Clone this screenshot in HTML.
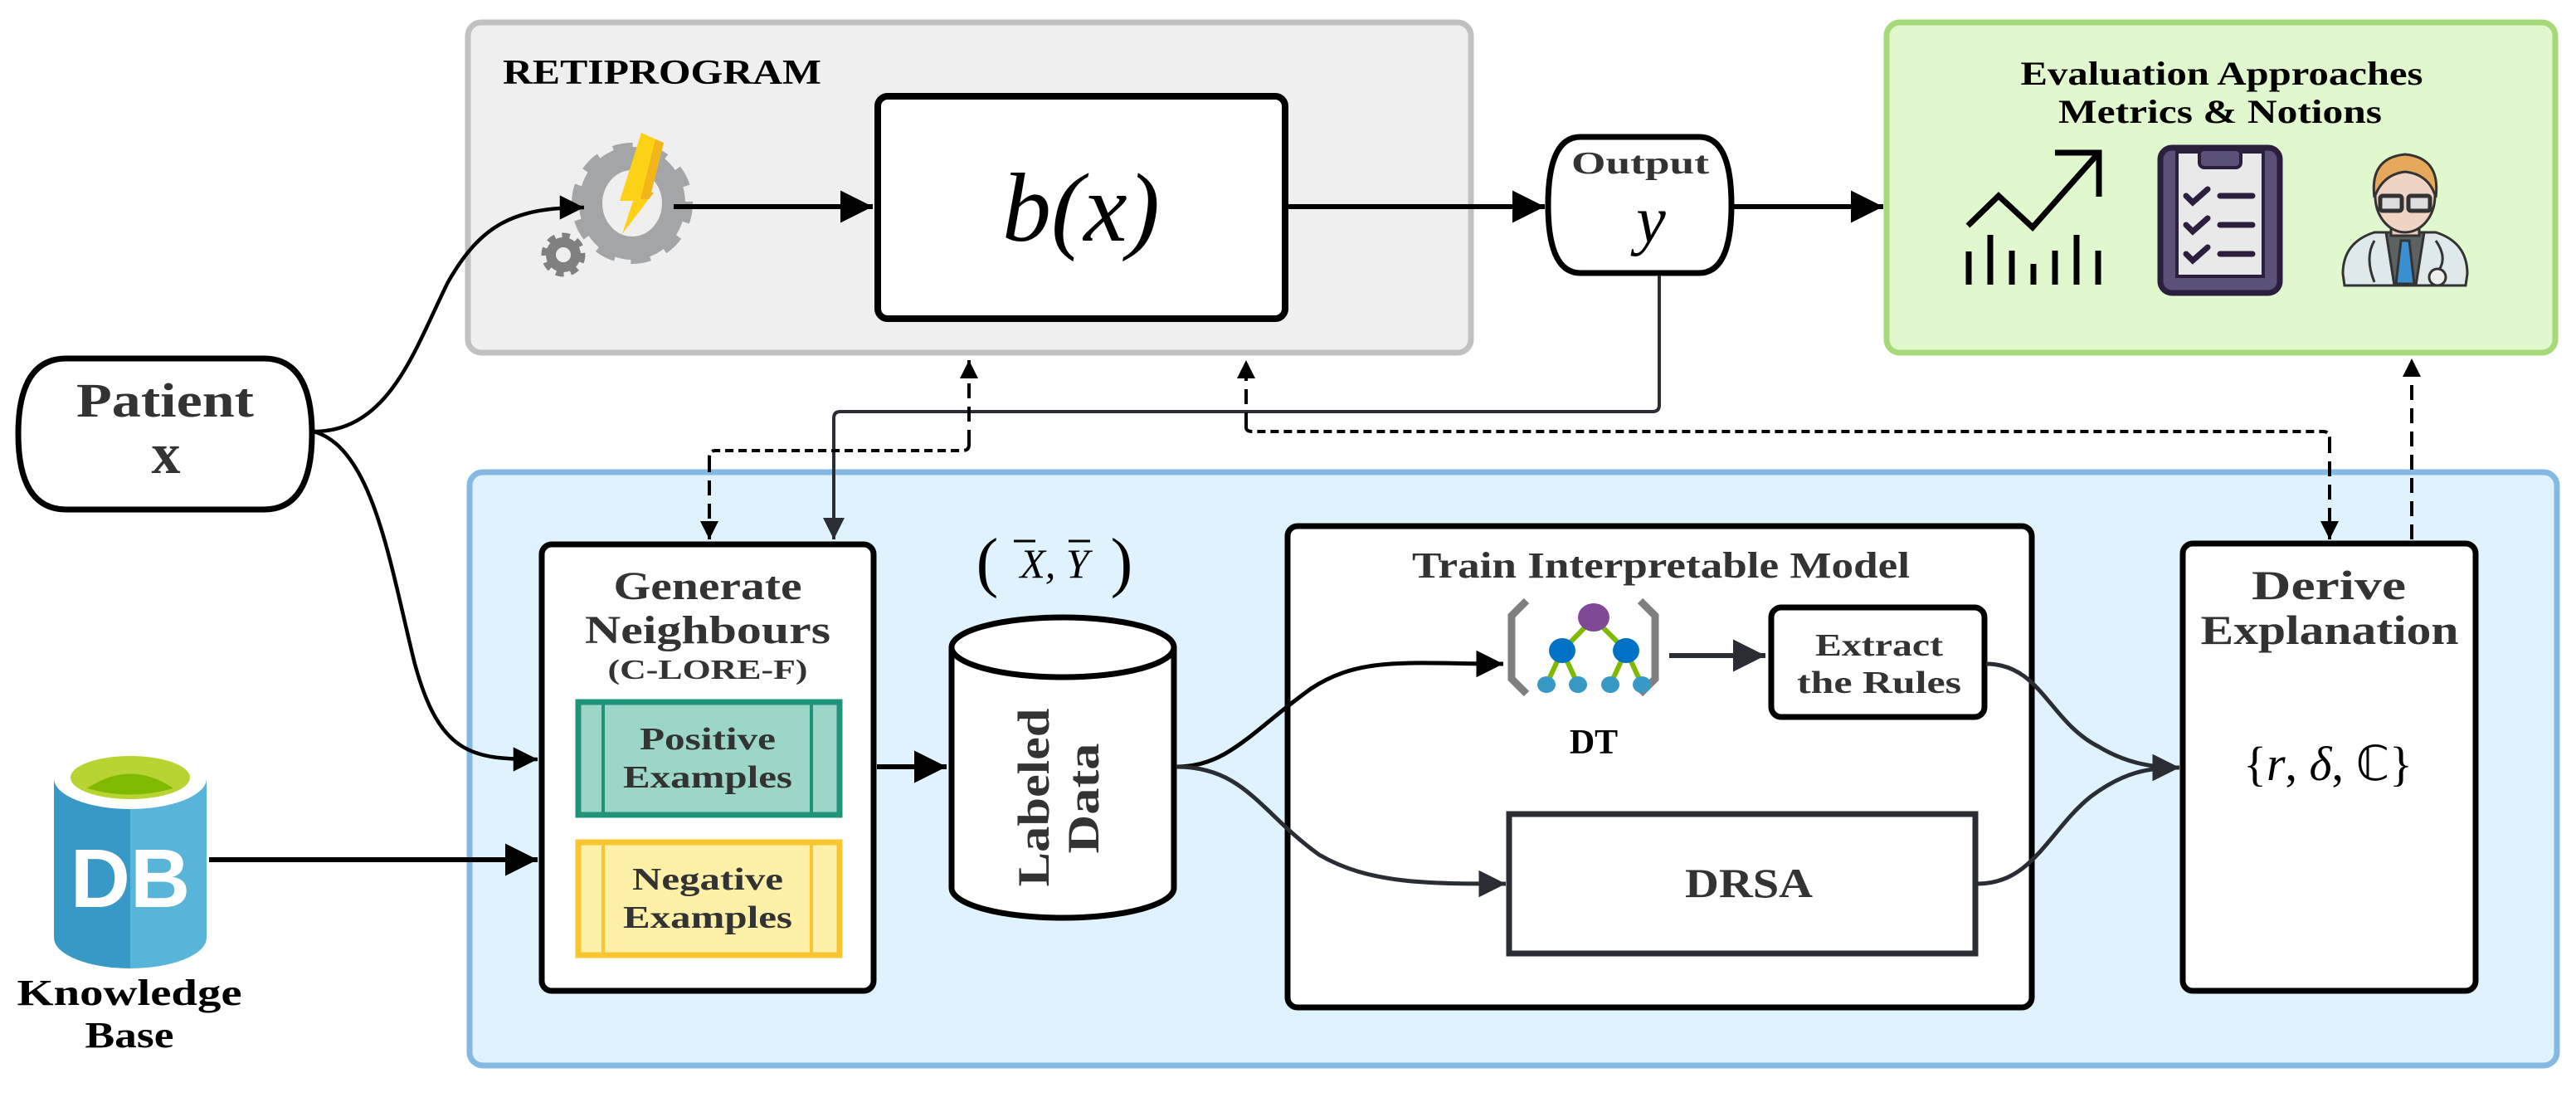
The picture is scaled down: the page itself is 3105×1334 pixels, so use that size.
<!DOCTYPE html>
<html><head><meta charset="utf-8"><style>
html,body{margin:0;padding:0;background:#fff;}
svg{display:block;}
text{font-family:"Liberation Serif",serif;}
</style></head><body>
<svg width="3105" height="1334" viewBox="0 0 3105 1334" xmlns="http://www.w3.org/2000/svg">
<defs>
<marker id="a" viewBox="0 0 10 10" refX="10" refY="5" markerWidth="7.5" markerHeight="6.5" orient="auto"><path d="M0,0 L10,5 L0,10 z" fill="#000"/></marker>
<marker id="ad" viewBox="0 0 10 10" refX="10" refY="5" markerWidth="7.5" markerHeight="6.5" orient="auto"><path d="M0,0 L10,5 L0,10 z" fill="#2a2d33"/></marker>
<marker id="as" viewBox="0 0 10 10" refX="10" refY="5" markerWidth="11" markerHeight="5.5" orient="auto"><path d="M0,0 L10,5 L0,10 z" fill="#000"/></marker>
</defs>

<rect x="564" y="27" width="1209" height="398" rx="16" fill="#efefef" stroke="#c1c1c1" stroke-width="7"/>
<text x="606" y="101" font-size="42" font-weight="bold" fill="#000" textLength="384" lengthAdjust="spacingAndGlyphs">RETIPROGRAM</text>

<rect x="2274" y="27" width="806" height="398" rx="16" fill="#e1f8cf" stroke="#a6d97a" stroke-width="7"/>
<text x="2678" y="102" font-size="40" font-weight="bold" fill="#000" text-anchor="middle" textLength="485" lengthAdjust="spacingAndGlyphs">Evaluation Approaches</text>
<text x="2676" y="148" font-size="40" font-weight="bold" fill="#000" text-anchor="middle" textLength="390" lengthAdjust="spacingAndGlyphs">Metrics &amp; Notions</text>

<g stroke="#000" stroke-width="7" fill="none">
<polyline points="2372,272 2409,236 2450,274 2528,186"/>
<polyline points="2477,184 2530,184 2530,237"/>
<line x1="2373" y1="303" x2="2373" y2="343"/>
<line x1="2399" y1="283" x2="2399" y2="343"/>
<line x1="2425" y1="302" x2="2425" y2="343"/>
<line x1="2451" y1="318" x2="2451" y2="343"/>
<line x1="2477" y1="302" x2="2477" y2="343"/>
<line x1="2503" y1="283" x2="2503" y2="343"/>
<line x1="2529" y1="302" x2="2529" y2="343"/>
</g>
<rect x="2604" y="178" width="144" height="175" rx="14" fill="#5a5078" stroke="#2b1f3d" stroke-width="7"/>
<rect x="2624" y="183" width="104" height="150" fill="#e9e9e9" stroke="#2b1f3d" stroke-width="4"/>
<rect x="2651" y="180" width="50" height="22" rx="6" fill="#5a5078" stroke="#2b1f3d" stroke-width="4"/>
<g stroke="#2b1f3d" stroke-width="7" fill="none" stroke-linecap="round">
<polyline points="2635,236 2643,244 2661,228"/><line x1="2676" y1="236" x2="2715" y2="236"/>
<polyline points="2635,271 2643,279 2661,263"/><line x1="2676" y1="271" x2="2715" y2="271"/>
<polyline points="2635,306 2643,314 2661,298"/><line x1="2676" y1="306" x2="2715" y2="306"/>
</g>
<g stroke="#333" stroke-width="3">
<path d="M2824,330 Q2824,292 2862,280 L2936,280 Q2974,292 2974,330 L2972,344 L2826,344 z" fill="#dfe9ec"/>
<path d="M2876,280 L2922,280 L2912,344 L2886,344 z" fill="#5c6262"/>
<path d="M2894,290 L2904,290 L2910,342 L2888,342 z" fill="#3a8fd1"/>
<rect x="2882" y="254" width="34" height="30" fill="#e9c9b8"/>
<ellipse cx="2899" cy="236" rx="36" ry="44" fill="#efd3c3"/>
<path d="M2862,238 Q2856,190 2899,186 Q2942,190 2936,238 Q2928,210 2899,207 Q2872,210 2862,238z" fill="#e6a85a"/>
<rect x="2869" y="236" width="26" height="18" rx="3" fill="#ddd" stroke-width="5"/>
<rect x="2903" y="236" width="26" height="18" rx="3" fill="#ddd" stroke-width="5"/>
<path d="M2862,290 Q2850,310 2862,340 M2936,290 Q2950,310 2940,325" fill="none"/>
<circle cx="2938" cy="334" r="10" fill="#eee"/>
</g>

<rect x="566" y="569" width="2516" height="715" rx="16" fill="#e0f2fd" stroke="#83b9e2" stroke-width="7"/>

<rect x="1058" y="116" width="491" height="268" rx="12" fill="#fff" stroke="#000" stroke-width="8"/>
<text x="1303" y="290" font-size="118" font-style="italic" fill="#000" text-anchor="middle">b(x)</text>

<g>
<circle cx="762" cy="245" r="64" fill="none" stroke="#a4a5a7" stroke-width="18" stroke-dasharray="22 18"/>
<ellipse cx="762" cy="245" rx="50" ry="54" fill="none" stroke="#a4a5a7" stroke-width="28"/>
<circle cx="679" cy="307" r="22" fill="none" stroke="#808080" stroke-width="9" stroke-dasharray="9 8"/>
<circle cx="679" cy="307" r="15" fill="none" stroke="#808080" stroke-width="12"/>
<polygon points="773,160 800,172 785,232 788,232 750,282 763,242 747,242" fill="#fcd116"/>
<polygon points="790,168 800,172 785,232 788,232 782,240 772,240" fill="#f2b51c"/>
</g>

<path d="M80,432 L318,432 Q376,432 376,523 Q376,614 318,614 L80,614 Q22,614 22,523 Q22,432 80,432 z" fill="#fff" stroke="#000" stroke-width="7"/>
<text x="199" y="502" font-size="58" font-weight="bold" fill="#333" text-anchor="middle" textLength="214" lengthAdjust="spacingAndGlyphs">Patient</text>
<text x="200" y="570" font-size="70" font-weight="bold" fill="#333" text-anchor="middle">x</text>

<path d="M1905,165 L2048,165 Q2087,165 2087,247 Q2087,329 2048,329 L1905,329 Q1866,329 1866,247 Q1866,165 1905,165 z" fill="#fff" stroke="#000" stroke-width="7"/>
<text x="1977" y="209" font-size="38" font-weight="bold" fill="#333" text-anchor="middle" textLength="166" lengthAdjust="spacingAndGlyphs">Output</text>
<text x="1990" y="292" font-size="80" font-style="italic" fill="#000" text-anchor="middle">y</text>

<g stroke="#000" stroke-width="6" fill="none">
<line x1="812" y1="249" x2="1052" y2="249" marker-end="url(#a)"/>
<line x1="1553" y1="249" x2="1862" y2="249" marker-end="url(#a)"/>
<line x1="2090" y1="249" x2="2270" y2="249" marker-end="url(#a)"/>
<path d="M378,520 C470,520 500,420 540,340 C580,270 620,250 704,250" stroke-width="4.5" marker-end="url(#a)"/>
<path d="M378,520 C450,540 470,680 500,800 C530,910 570,915 648,915" stroke-width="4.5" marker-end="url(#a)"/>
<line x1="252" y1="1036" x2="648" y2="1036" marker-end="url(#a)"/>
</g>

<path d="M2000,332 L2000,488 Q2000,496 1992,496 L1013,496 Q1005,496 1005,504 L1005,650" fill="none" stroke="#2a2d33" stroke-width="4" marker-end="url(#ad)"/>
<g fill="none" stroke="#000" stroke-width="4">
<path d="M1168,536 L1168,434" stroke-dasharray="18 10" marker-end="url(#as)"/>
<path d="M1168,536 Q1168,543 1160,543 L862,543 Q855,543 855,551" stroke-dasharray="10 6"/>
<path d="M855,551 L855,650" stroke-dasharray="18 10" marker-end="url(#as)"/>
<path d="M1502,515 L1502,434" stroke-dasharray="18 10" marker-end="url(#as)"/>
<path d="M1502,515 Q1502,520 1510,520 L2800,520 Q2808,520 2808,528" stroke-dasharray="10 6"/>
<path d="M2808,528 L2808,650" stroke-dasharray="18 10" marker-end="url(#as)"/>
<path d="M2907,650 L2907,432" stroke-dasharray="18 10" marker-end="url(#as)"/>
</g>

<rect x="653" y="656" width="400" height="538" rx="12" fill="#fff" stroke="#000" stroke-width="7"/>
<text x="853" y="722" font-size="48" font-weight="bold" fill="#333" text-anchor="middle" textLength="227" lengthAdjust="spacingAndGlyphs">Generate</text>
<text x="853" y="775" font-size="48" font-weight="bold" fill="#333" text-anchor="middle" textLength="296" lengthAdjust="spacingAndGlyphs">Neighbours</text>
<text x="853" y="818" font-size="34" font-weight="bold" fill="#333" text-anchor="middle" textLength="241" lengthAdjust="spacingAndGlyphs">(C-LORE-F)</text>
<rect x="697" y="846" width="315" height="136" fill="#9bd6c9" stroke="#1f9479" stroke-width="7"/>
<line x1="727" y1="846" x2="727" y2="982" stroke="#1f9479" stroke-width="4"/>
<line x1="978" y1="846" x2="978" y2="982" stroke="#1f9479" stroke-width="4"/>
<text x="853" y="903" font-size="38" font-weight="bold" fill="#333" text-anchor="middle" textLength="164" lengthAdjust="spacingAndGlyphs">Positive</text>
<text x="853" y="949" font-size="38" font-weight="bold" fill="#333" text-anchor="middle" textLength="204" lengthAdjust="spacingAndGlyphs">Examples</text>
<rect x="697" y="1015" width="315" height="136" fill="#fff0a8" stroke="#f9c632" stroke-width="7"/>
<line x1="727" y1="1015" x2="727" y2="1151" stroke="#f9c632" stroke-width="4"/>
<line x1="978" y1="1015" x2="978" y2="1151" stroke="#f9c632" stroke-width="4"/>
<text x="853" y="1072" font-size="38" font-weight="bold" fill="#333" text-anchor="middle" textLength="182" lengthAdjust="spacingAndGlyphs">Negative</text>
<text x="853" y="1118" font-size="38" font-weight="bold" fill="#333" text-anchor="middle" textLength="204" lengthAdjust="spacingAndGlyphs">Examples</text>

<line x1="1057" y1="924" x2="1141" y2="924" stroke="#000" stroke-width="6" marker-end="url(#a)"/>

<text x="1190" y="704" font-size="80" fill="#000" text-anchor="middle">(</text>
<text x="1352" y="704" font-size="80" fill="#000" text-anchor="middle">)</text>
<text x="1271" y="696" font-size="50" font-style="italic" fill="#000" text-anchor="middle">X, Y</text>
<line x1="1222" y1="652" x2="1248" y2="652" stroke="#000" stroke-width="3"/>
<line x1="1288" y1="652" x2="1314" y2="652" stroke="#000" stroke-width="3"/>

<path d="M1147,780 L1147,1070 A134,36 0 0 0 1415,1070 L1415,780" fill="#fff" stroke="#000" stroke-width="7"/>
<ellipse cx="1281" cy="780" rx="134" ry="36" fill="#fff" stroke="#000" stroke-width="7"/>
<text transform="translate(1264,961) rotate(-90)" font-size="54" font-weight="bold" fill="#333" text-anchor="middle" textLength="215" lengthAdjust="spacingAndGlyphs">Labeled</text>
<text transform="translate(1324,962) rotate(-90)" font-size="54" font-weight="bold" fill="#333" text-anchor="middle" textLength="133" lengthAdjust="spacingAndGlyphs">Data</text>

<rect x="1552" y="634" width="897" height="580" rx="12" fill="#fff" stroke="#000" stroke-width="7"/>
<text x="2002" y="696" font-size="44" font-weight="bold" fill="#333" text-anchor="middle" textLength="600" lengthAdjust="spacingAndGlyphs">Train Interpretable Model</text>
<g>
<path d="M1840,724 L1822,742 L1822,818 L1840,836" fill="none" stroke="#7f7f7f" stroke-width="9"/>
<path d="M1977,724 L1995,742 L1995,818 L1977,836" fill="none" stroke="#7f7f7f" stroke-width="9"/>
<g stroke="#7fba00" stroke-width="6">
<line x1="1921" y1="745" x2="1883" y2="784"/><line x1="1921" y1="745" x2="1960" y2="784"/>
<line x1="1883" y1="784" x2="1864" y2="825"/><line x1="1883" y1="784" x2="1902" y2="825"/>
<line x1="1960" y1="784" x2="1941" y2="825"/><line x1="1960" y1="784" x2="1979" y2="825"/>
</g>
<ellipse cx="1921" cy="744" rx="19" ry="17" fill="#804998"/>
<ellipse cx="1883" cy="784" rx="16" ry="15" fill="#0072c6"/>
<ellipse cx="1960" cy="784" rx="16" ry="15" fill="#0072c6"/>
<ellipse cx="1864" cy="825" rx="11" ry="10" fill="#3999c6"/>
<ellipse cx="1902" cy="825" rx="11" ry="10" fill="#3999c6"/>
<ellipse cx="1941" cy="825" rx="11" ry="10" fill="#3999c6"/>
<ellipse cx="1979" cy="825" rx="11" ry="10" fill="#3999c6"/>
</g>
<text x="1921" y="908" font-size="42" font-weight="bold" fill="#000" text-anchor="middle">DT</text>
<line x1="2012" y1="790" x2="2128" y2="790" stroke="#2a2d33" stroke-width="6" marker-end="url(#ad)"/>
<rect x="2135" y="732" width="257" height="132" rx="12" fill="#fff" stroke="#000" stroke-width="7"/>
<text x="2265" y="790" font-size="38" font-weight="bold" fill="#333" text-anchor="middle" textLength="154" lengthAdjust="spacingAndGlyphs">Extract</text>
<text x="2265" y="835" font-size="38" font-weight="bold" fill="#333" text-anchor="middle" textLength="198" lengthAdjust="spacingAndGlyphs">the Rules</text>
<rect x="1819" y="981" width="562" height="168" fill="#fff" stroke="#2a2d33" stroke-width="7"/>
<text x="2108" y="1081" font-size="50" font-weight="bold" fill="#333" text-anchor="middle" textLength="154" lengthAdjust="spacingAndGlyphs">DRSA</text>

<rect x="2631" y="655" width="353" height="539" rx="12" fill="#fff" stroke="#000" stroke-width="7"/>
<text x="2807" y="722" font-size="50" font-weight="bold" fill="#333" text-anchor="middle" textLength="186" lengthAdjust="spacingAndGlyphs">Derive</text>
<text x="2808" y="776" font-size="50" font-weight="bold" fill="#333" text-anchor="middle" textLength="311" lengthAdjust="spacingAndGlyphs">Explanation</text>
<text x="2806" y="940" font-size="58" fill="#000" text-anchor="middle"><tspan>{</tspan><tspan font-style="italic">r</tspan><tspan>, </tspan><tspan font-style="italic">δ</tspan><tspan>, ℂ}</tspan></text>

<g fill="none" stroke="#000" stroke-width="5">
<path d="M1418,924 C1480,924 1510,880 1580,830 C1640,790 1700,800 1812,800" marker-end="url(#a)"/>
</g>
<g fill="none" stroke="#2a2d33" stroke-width="5">
<path d="M1418,924 C1500,924 1520,980 1590,1030 C1650,1065 1720,1065 1815,1065" marker-end="url(#ad)"/>
<path d="M2394,800 C2460,800 2470,870 2530,900 C2560,918 2590,925 2627,925" marker-end="url(#ad)"/>
<path d="M2384,1065 C2450,1065 2470,1000 2520,960 C2560,930 2590,925 2627,925" marker-end="url(#ad)"/>
</g>

<g>
<path d="M65,938 L65,1130 A92,37 0 0 0 157,1167 L157,938 z" fill="#3999c6"/>
<path d="M157,938 L157,1167 A92,37 0 0 0 249,1130 L249,938 z" fill="#59b4d9"/>
<ellipse cx="157" cy="938" rx="92" ry="37" fill="#fff"/>
<ellipse cx="157" cy="937" rx="72" ry="26" fill="#b8d432"/>
<path d="M105,950 Q157,915 209,950 Q157,965 105,950z" fill="#7fba00"/>
<text x="157" y="1093" font-size="100" font-weight="bold" fill="#fff" text-anchor="middle" style="font-family:'Liberation Sans',sans-serif">DB</text>
</g>
<text x="156" y="1211" font-size="44" font-weight="bold" fill="#000" text-anchor="middle" textLength="271" lengthAdjust="spacingAndGlyphs">Knowledge</text>
<text x="156" y="1262" font-size="44" font-weight="bold" fill="#000" text-anchor="middle" textLength="107" lengthAdjust="spacingAndGlyphs">Base</text>
</svg>
</body></html>
